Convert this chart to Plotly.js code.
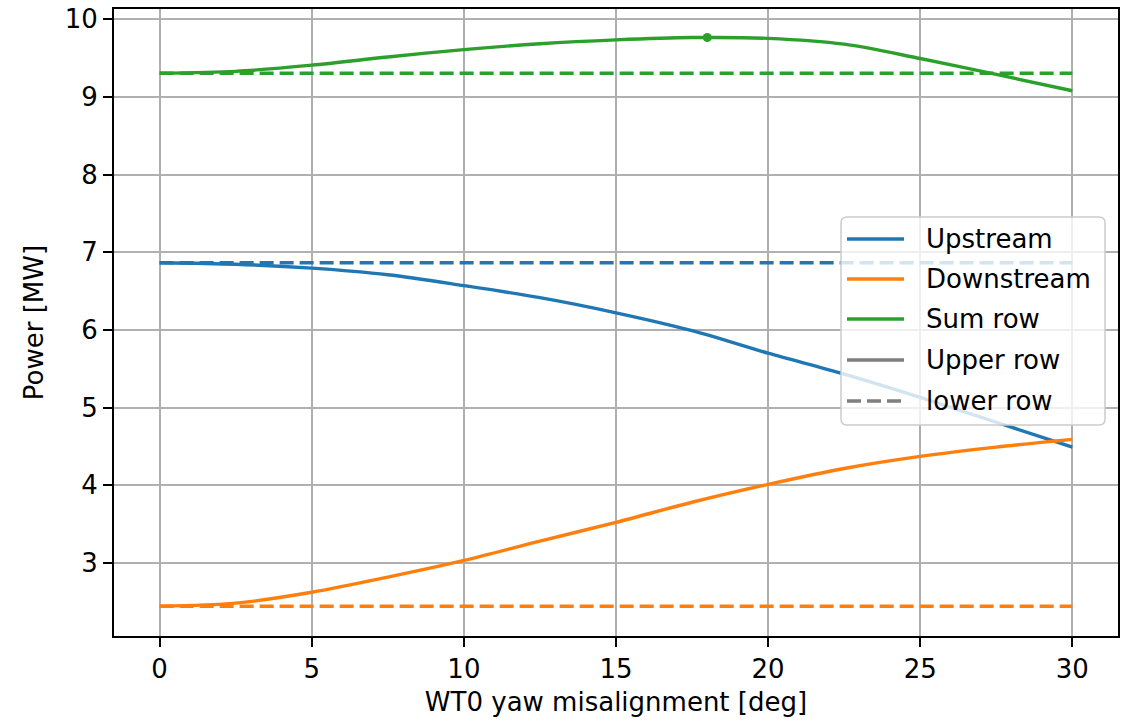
<!DOCTYPE html>
<html>
<head>
<meta charset="utf-8">
<script src="https://cdn.plot.ly/plotly-3.0.1.min.js"></script>
<style>
  html, body { margin: 0; padding: 0; background: #fff; }
  #chart { width: 1127px; height: 721px; }
</style>
</head>
<body>
<div id="chart"></div>
<script>
// Yaw angle of the first turbine (deg)
const yawDeg = [0, 2.5, 5, 7.5, 10, 12.5, 15, 17.5, 20, 22.5, 25, 27.5, 30];

// Upper row: WT0 is yawed (MW)
const upperUpstream   = [6.865, 6.845, 6.795, 6.71, 6.57, 6.415, 6.22, 5.99, 5.70, 5.43, 5.13, 4.81, 4.49];
const upperDownstream = [2.44, 2.48, 2.62, 2.815, 3.03, 3.28, 3.52, 3.78, 4.01, 4.215, 4.37, 4.49, 4.59];
const upperSum        = [9.305, 9.33, 9.41, 9.515, 9.61, 9.685, 9.735, 9.765, 9.755, 9.68, 9.495, 9.29, 9.08];

// Lower row: no yaw, constant output (MW)
const lowerYaw        = [0, 30];
const lowerUpstream   = [6.865, 6.865];
const lowerDownstream = [2.44, 2.44];
const lowerSum        = [9.305, 9.305];

// Best yaw angle for the upper row sum
const optYaw   = [18];
const optPower = [9.766];

// Legend entries
const legendLabels = ['Upstream', 'Downstream', 'Sum row', 'Upper row', 'lower row'];

const C_UP = '#1f77b4', C_DOWN = '#ff7f0e', C_SUM = '#2ca02c', C_GRAY = '#7f7f7f';
const legendColors = [C_UP, C_DOWN, C_SUM, C_GRAY, C_GRAY];
const legendDashed = [false, false, false, false, true];

const LW = 3.4;
const DASH = '14px,6px';
const FONT = 'DejaVu Sans, sans-serif';
const FS = 26;

const solid = (x, y, color) => ({
  x, y, type: 'scatter', mode: 'lines',
  line: { color, width: LW, shape: 'spline', smoothing: 0.9 },
  showlegend: false, hoverinfo: 'skip'
});
const dashed = (x, y, color) => ({
  x, y, type: 'scatter', mode: 'lines',
  line: { color, width: LW, dash: DASH },
  showlegend: false, hoverinfo: 'skip'
});

const traces = [
  solid(yawDeg, upperUpstream, C_UP),
  dashed(lowerYaw, lowerUpstream, C_UP),
  solid(yawDeg, upperDownstream, C_DOWN),
  dashed(lowerYaw, lowerDownstream, C_DOWN),
  solid(yawDeg, upperSum, C_SUM),
  dashed(lowerYaw, lowerSum, C_SUM),
  {
    x: optYaw, y: optPower, type: 'scatter', mode: 'markers',
    marker: { color: C_SUM, size: 9 }, showlegend: false, hoverinfo: 'skip'
  }
];

// Plot area in pixels, used to place the legend box in paper units
const PL = 114, PR = 1118, PT = 9, PB = 636;
const px = v => (v - PL) / (PR - PL);
const py = v => (PB - v) / (PB - PT);

// Legend box with rounded corners
const bx0 = px(841), bx1 = px(1105), by0 = py(425), by1 = py(217);
const rx = 6 / (PR - PL), ry = 6 / (PB - PT);
const boxPath =
  `M${bx0 + rx},${by1} L${bx1 - rx},${by1} Q${bx1},${by1} ${bx1},${by1 - ry} ` +
  `L${bx1},${by0 + ry} Q${bx1},${by0} ${bx1 - rx},${by0} ` +
  `L${bx0 + rx},${by0} Q${bx0},${by0} ${bx0},${by0 + ry} ` +
  `L${bx0},${by1 - ry} Q${bx0},${by1} ${bx0 + rx},${by1} Z`;

const shapes = [{
  type: 'path', xref: 'paper', yref: 'paper', layer: 'above', path: boxPath,
  fillcolor: 'rgba(255,255,255,0.8)', line: { color: '#cccccc', width: 1.5 }
}];
const annotations = [];
const rowY = [239, 279, 319, 360, 401];
legendLabels.forEach((label, i) => {
  shapes.push({
    type: 'line', xref: 'paper', yref: 'paper', layer: 'above',
    x0: px(847), x1: px(904), y0: py(rowY[i]), y1: py(rowY[i]),
    line: { color: legendColors[i], width: LW, dash: legendDashed[i] ? DASH : 'solid' }
  });
  annotations.push({
    xref: 'paper', yref: 'paper', x: px(924), y: py(rowY[i]),
    xanchor: 'left', yanchor: 'middle', showarrow: false, text: label,
    font: { family: FONT, size: FS, color: '#000' }
  });
});

const axisCommon = {
  showline: true, mirror: true, linecolor: '#000', linewidth: 2,
  ticks: 'outside', ticklen: 9, tickwidth: 2, tickcolor: '#000',
  showgrid: true, gridcolor: '#b0b0b0', gridwidth: 2,
  zeroline: false,
  tickfont: { family: FONT, size: FS, color: '#000' }
};

const layout = {
  width: 1127, height: 721,
  margin: { l: PL, r: 1127 - PR, t: PT, b: 721 - PB },
  paper_bgcolor: '#fff', plot_bgcolor: '#fff',
  font: { family: FONT, size: FS, color: '#000' },
  showlegend: false,
  xaxis: Object.assign({}, axisCommon, {
    range: [-1.5, 31.5], tickvals: [0, 5, 10, 15, 20, 25, 30],
    title: { text: 'WT0 yaw misalignment [deg]', font: { family: FONT, size: FS, color: '#000' }, standoff: 10 }
  }),
  yaxis: Object.assign({}, axisCommon, {
    range: [2.057, 10.133], tickvals: [3, 4, 5, 6, 7, 8, 9, 10],
    title: { text: 'Power [MW]', font: { family: FONT, size: FS, color: '#000' }, standoff: 14 }
  }),
  shapes, annotations
};

Plotly.newPlot('chart', traces, layout, { staticPlot: true, displayModeBar: false });
</script>
</body>
</html>
